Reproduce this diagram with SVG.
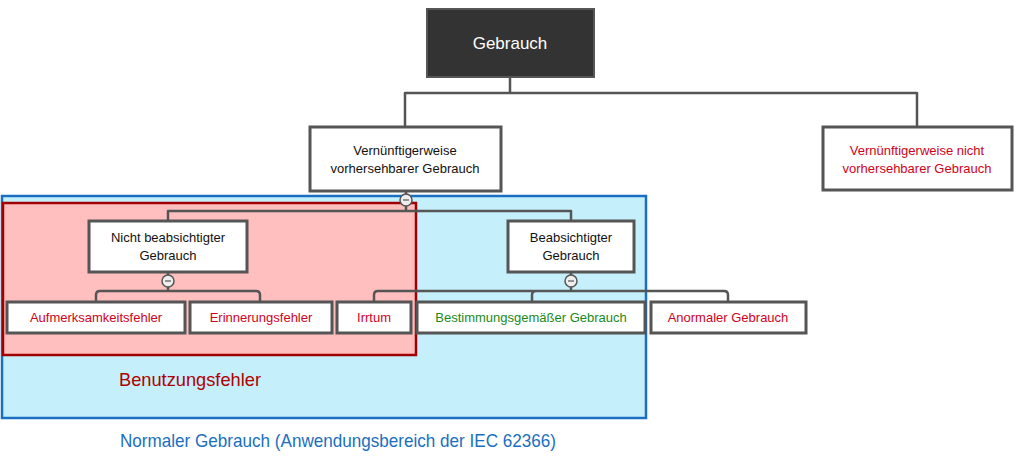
<svg xmlns="http://www.w3.org/2000/svg" width="1024" height="472" viewBox="0 0 1024 472">
<style>
text{font-family:"Liberation Sans",Arial,sans-serif;text-anchor:middle}
.b{fill:#fff;stroke:#555;stroke-width:3}
.c{fill:none;stroke:#555;stroke-width:2.5;stroke-linejoin:round}
.k{font-size:13px;fill:#111}
.r{font-size:13px;fill:#d0021b}
.g{font-size:13px;fill:#1a8a1a}
.m{fill:#eee;stroke:#555;stroke-width:1.5}
</style>
<rect x="2" y="196" width="644" height="222" fill="#c5f0fb" stroke="#1a6fc0" stroke-width="2.5"/>
<rect x="3" y="203" width="413" height="152" fill="#ffbfbf" stroke="#a00000" stroke-width="2.5"/>
<text x="190" y="386" style="font-size:19px;fill:#b00000" textLength="142" lengthAdjust="spacingAndGlyphs">Benutzungsfehler</text>
<text x="338" y="447" style="font-size:19px;fill:#1a6fc0" textLength="436" lengthAdjust="spacingAndGlyphs">Normaler Gebrauch (Anwendungsbereich der IEC 62366)</text>
<g id="connectors">
<path class="c" d="M510 77V93M405 127V93H917V127"/>
<path class="c" d="M406 191V211M168 221V211H571V221"/>
<path class="c" d="M168 272V291M96 302V295Q96 291 100 291H256Q260 291 260 295V302"/>
<path class="c" d="M571 272V291M374 302V295Q374 291 378 291H724Q728 291 728 295V302M532 302V295Q532 291 536 291"/>
<circle class="m" cx="406" cy="200" r="6"/><path d="M403 200h6" stroke="#555" stroke-width="1.2"/>
<circle class="m" cx="168" cy="281" r="6"/><path d="M165 281h6" stroke="#555" stroke-width="1.2"/>
<circle class="m" cx="571" cy="281" r="6"/><path d="M568 281h6" stroke="#555" stroke-width="1.2"/>
</g>
<g id="gebrauch"><rect x="427" y="9" width="167" height="68" fill="#333" stroke="#555" stroke-width="2"/><text x="510" y="49" style="font-size:17px;fill:#fff">Gebrauch</text></g>
<g id="vvg"><rect class="b" x="310" y="127" width="191" height="64"/><text class="k" x="405" y="155">Vernünftigerweise</text><text class="k" x="405" y="173">vorhersehbarer Gebrauch</text></g>
<g id="vnvg"><rect class="b" x="823" y="127" width="189" height="63"/><text class="r" x="917" y="155">Vernünftigerweise nicht</text><text class="r" x="917" y="173">vorhersehbarer Gebrauch</text></g>
<g id="nbg"><rect class="b" x="89" y="221" width="158" height="51"/><text class="k" x="168" y="242">Nicht beabsichtigter</text><text class="k" x="168" y="260">Gebrauch</text></g>
<g id="bg"><rect class="b" x="508" y="221" width="126" height="51"/><text class="k" x="571" y="242">Beabsichtigter</text><text class="k" x="571" y="260">Gebrauch</text></g>
<g id="auf"><rect class="b" x="7" y="302" width="178" height="31"/><text class="r" x="96" y="322">Aufmerksamkeitsfehler</text></g>
<g id="eri"><rect class="b" x="190" y="302" width="142" height="31"/><text class="r" x="261" y="322">Erinnerungsfehler</text></g>
<g id="irr"><rect class="b" x="337" y="302" width="74" height="31"/><text class="r" x="374" y="322">Irrtum</text></g>
<g id="best"><rect class="b" x="417" y="302" width="228" height="31"/><text class="g" x="531" y="322">Bestimmungsgemäßer Gebrauch</text></g>
<g id="anor"><rect class="b" x="651" y="302" width="155" height="31"/><text class="r" x="728" y="322">Anormaler Gebrauch</text></g>
</svg>
